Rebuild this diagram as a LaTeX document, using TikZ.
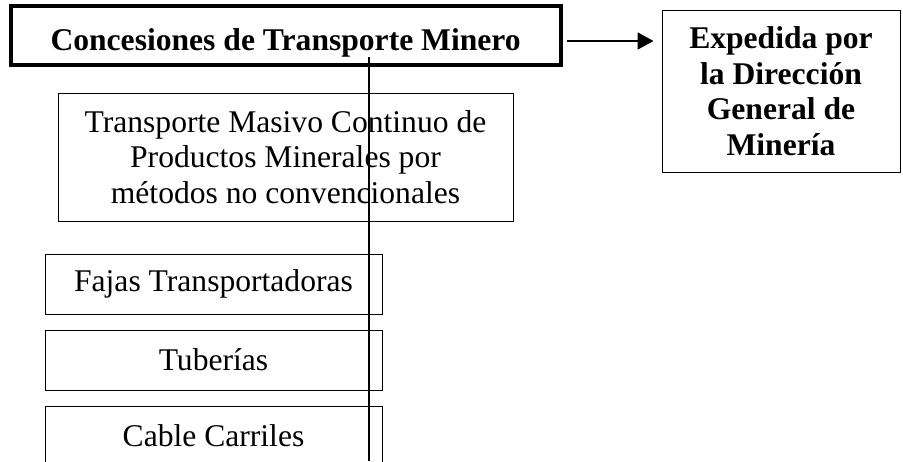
\documentclass[tikz,border=0pt]{standalone}
\usepackage{fontspec}
\setmainfont{Liberation Serif}
\usetikzlibrary{arrows.meta}
\usetikzlibrary{shapes}

\begin{document}
\begin{tikzpicture}[x = 1pt, y = -1pt, font=\fontsize{31.6}{35.5}\selectfont]
	\tikzstyle{mainStyle}=[shape = rectangle, draw, line width = 4pt, inner sep = 0pt, text height = 29pt, text depth = 0pt, font = \fontsize{31.6}{35.5}\selectfont\bfseries]
	\tikzstyle{boxStyle}=[shape = rectangle, draw, line width = 1pt, inner sep = 0pt, align = center]
	\tikzstyle{boldStyle}=[boxStyle, font = \fontsize{31.6}{35.5}\selectfont\bfseries]
	\tikzstyle{lineStyle}=[line width = 2pt]
	\tikzstyle{arrowStyle}=[line width = 2pt, -{Triangle[length = 16pt, width = 17pt]}]
	\useasboundingbox (0, 0) rectangle (903, 461);
	\clip (0, 0) rectangle (903, 461);
	\node[style = mainStyle, minimum width = 550pt, minimum height = 59pt] (b0) at (285.6, 35.5) {Concesiones de Transporte Minero};
	\node[style = boldStyle, minimum width = 238pt, minimum height = 162pt] (b1) at (781, 91) {Expedida por\\la Dirección\\General de\\Minería};
	\node[style = boxStyle, minimum width = 455pt, minimum height = 128pt] (b2) at (285.5, 157) {Transporte Masivo Continuo de\\Productos Minerales por\\métodos no convencionales};
	\node[style = boxStyle, minimum width = 337pt, minimum height = 60pt] (b3) at (213.5, 284) {Fajas Transportadoras};
	\node[style = boxStyle, minimum width = 337pt, minimum height = 60pt] (b4) at (213.5, 360) {Tuberías};
	\node[style = boxStyle, minimum width = 337pt, minimum height = 60pt] (b5) at (213.5, 436) {Cable Carriles};
	\coordinate (t0) at (369, 57);
	\coordinate (t1) at (369, 461);
	\coordinate (a0) at ([yshift = -5.5pt]b0.east);
	\draw[style = lineStyle] (t0) -- (t1);
	\draw[style = arrowStyle, shorten < = 4pt, shorten > = 8pt] (a0) -- (a0 -| b1.west);
\end{tikzpicture}
\end{document}
